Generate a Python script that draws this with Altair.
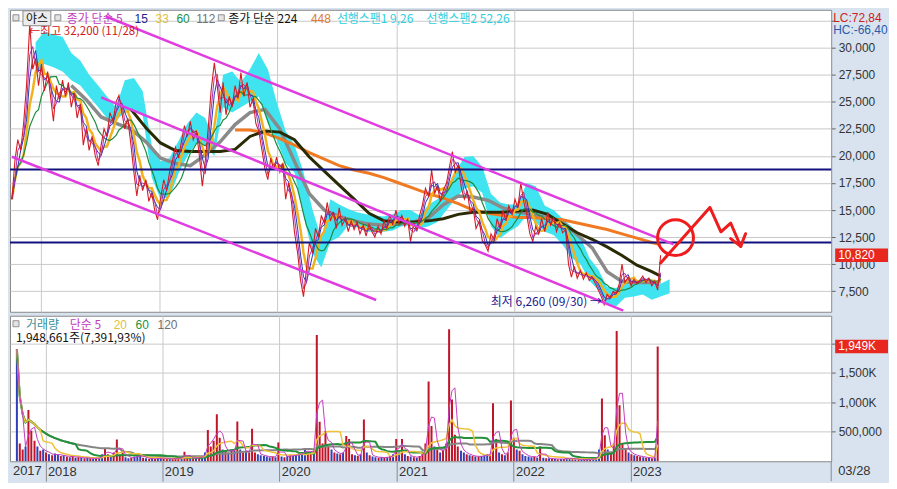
import altair as alt
import pandas as pd

# ---------------- data ----------------
close = [
    16000, 19500, 21500, 20500, 23000, 26500, 32200, 28000, 29000, 26500,
    28500, 26000, 27800, 25500, 23200, 26500, 25200, 27000, 25500, 26800,
    24500, 25800, 23500, 24800, 21000, 22500, 20500, 21800, 20000, 19100,
    21000, 22500, 21800, 24000, 23200, 25000, 25600, 24000, 22500, 23500,
    21000, 18500, 16300, 18200, 16800, 17800, 15800, 16600, 15000, 14100,
    16000, 17800, 16800, 18500, 19600, 20800, 19800, 21400, 22800, 21800,
    23200, 21500, 22200, 20000, 17200, 19500, 22500, 26000, 28600, 26500,
    24000, 26800, 23800, 25500, 24500, 26500, 25300, 27700, 25500, 26800,
    24500, 25300, 23000, 22300, 20500, 18800, 17800, 19800, 18700, 19900,
    18500, 19300, 16000, 17500, 15700, 13000, 11000, 8500, 7000, 9500,
    12000, 11000, 13300, 12500, 14500, 13800, 15700, 14000, 14800, 13300,
    15200, 13600, 14200, 13000, 14000, 13200, 13900, 12800, 13600, 12600,
    13700, 13000, 12500, 13500, 12800, 14000, 13300, 14600, 13600, 15000,
    13800, 14500, 13500, 14200, 12100, 13800, 13200, 14500, 15500, 17000,
    16200, 18700, 16500, 17200, 15800, 16800, 17500, 19000, 20400, 18500,
    19200, 17000, 16000, 16800, 14800, 15200, 13300, 14000, 12200, 11800,
    11200, 12800, 12300, 14200, 13300, 15000, 14000, 15400, 14600, 16000,
    15200, 17500, 15800, 14600, 12800, 12100, 13500, 12800, 14200, 13000,
    14800, 13600, 14300, 13000, 13800, 12900, 13200, 10000, 8800, 9800,
    8700, 9400, 8600, 9200, 8500, 8800, 8200, 7600, 7000, 6260,
    7200, 6900, 7500, 7300, 8100, 10000, 8300, 8800, 8000, 8600,
    8200, 8500, 8900, 8300, 8700, 8000, 8400, 7600, 10820,
]

volume_k = [
    1900, 300, 200, 250, 870, 516, 350, 250, 180, 200,
    150, 120, 100, 130, 110, 90, 100, 80, 70, 90,
    60, 70, 60, 50, 60, 50, 45, 50, 60, 120,
    225, 120, 90, 150, 370, 110, 160, 70, 50, 60,
    80, 90, 110, 60, 50, 40, 45, 40, 50, 60,
    50, 40, 45, 40, 50, 45, 60, 160, 70, 60,
    50, 60, 70, 80, 150, 530, 250, 350, 800, 400,
    200, 180, 150, 200, 180, 675, 200, 150, 180, 150,
    550, 150, 120, 100, 90, 80, 70, 80, 70, 320,
    80, 70, 90, 100, 90, 110, 120, 150, 200, 160,
    140, 180, 2145, 670, 300, 515, 250, 200, 150, 130,
    120, 150, 430, 380, 120, 100, 90, 120, 710, 150,
    100, 80, 70, 60, 70, 60, 70, 90, 120, 380,
    150, 380, 120, 90, 80, 70, 60, 90, 150, 300,
    1355, 600, 250, 200, 150, 180, 300, 2240, 1050, 450,
    250, 180, 150, 120, 100, 90, 80, 80, 90, 100,
    120, 110, 985, 380, 150, 120, 100, 150, 1030, 400,
    200, 180, 120, 90, 80, 70, 80, 60, 250, 60,
    50, 50, 40, 40, 35, 40, 40, 60, 50, 40,
    35, 30, 30, 30, 30, 35, 40, 60, 200, 1065,
    440, 200, 150, 300, 2210, 950, 300, 200, 150, 120,
    100, 90, 80, 70, 60, 60, 50, 60, 1949,
]

# long moving averages, sampled every 5th trading sample (+ last)
ma112 = [None, None, None, None,
         26500, 25200, 23600, 23000, 22500, 21300, 19800, 19300, 19100, 20100,
         21300, 22900, 24000, 24300, 22500, 19500, 16500, 15000, 14400, 14000,
         13700, 13600, 13700, 13900, 14300, 15500, 16300, 16200, 15900, 15200,
         14800, 14600, 14300, 13900, 12700, 11500, 9300, 8400, 8300, 8300,
         8400]
ma224 = [None, None, None, None, None, None, None, None,
         24300, 22600, 21200, 20500, 20400, 20400, 20400, 20600, 21800, 22300,
         22200, 21500, 19900, 18600, 17300, 16000, 14700, 14000, 13900, 13900,
         14000, 14200, 14600, 14800, 14800, 14800, 14900, 15000, 14600, 13700,
         12900, 12300, 11600, 10800, 9900, 9300,
         8900]
ma448 = [None] * 15 + [
         22400, 22400, 22100, 21600, 21000, 20300, 19700, 19100, 18700, 18400,
         18000, 17500, 17000, 16500, 16100, 15600, 15000, 14700, 14500, 14300,
         14300, 14200, 14100, 13800, 13500, 13200, 12800, 12400, 12000,
         11800]

# leading-span cloud (top / bottom)
cloud_top = [30500, 31500, 31200, 31000, 29500, 28800, 27500, 26500, 25500, 24500,
             27000, 27200, 26000, 21000, 19500, 19800, 21400, 23000, 24000, 23500,
             21500, 27500, 27800, 26800, 28000, 29500, 28000, 25000, 22300, 21000,
             18500, 15000, 12400, 16000, 15500, 15100, 14800, 14600, 14500, 14400,
             14600, 15000, 15000, 14500, 15500, 16000, 17000, 18500, 19900, 20000,
             19000, 16500, 15700, 15500, 15500, 17500, 17200, 15400, 15000, 14200,
             13500, 12500, 10600, 9500, 7900, 7800, 8300, 8500, 8600, 8400,
             8200, 8600]
cloud_bot = [27500, 28500, 28200, 27800, 27000, 26500, 25500, 24500, 23500, 23300,
             24000, 24200, 23800, 18000, 16000, 16200, 18400, 20000, 21200, 21000,
             20000, 24500, 24000, 24500, 25000, 25500, 23000, 21500, 19300, 18500,
             14500, 11000, 9700, 12100, 12500, 13600, 13400, 13000, 13000, 13000,
             13100, 13500, 13600, 13300, 13500, 13900, 15000, 16000, 17000, 17200,
             16600, 13500, 12400, 13000, 13500, 14500, 13900, 13000, 12700, 11800,
             10600, 10000, 8500, 7600, 6300, 6100, 6900, 7000, 7200, 6700,
             7000, 7300]

# hand-drawn trend channels
channel_ids = ["A", "A", "B", "B", "C", "C"]
channel_dates = ["2018-07-21", "2023-05-06", "2018-07-06", "2022-12-02", "2017-10-04", "2020-10-31"]
channel_values = [32880, 11820, 25410, 5700, 19920, 6690]

support_levels = [18750, 12000]

scribble_dates = ["2023-03-27", "2023-08-26", "2023-09-29", "2023-10-29", "2023-11-29"]
scribble_values = [10110, 15240, 12990, 13800, 11640]
arrowhead_dates = ["2023-10-29", "2023-11-29", "2023-12-14"]
arrowhead_values = [12360, 11640, 12810]
circle_date = ["2023-05-12"]
circle_value = [12450]

price_ticks = [7500, 10000, 12500, 15000, 17500, 20000, 22500, 25000, 27500, 30000, 32500]
volume_ticks = [500, 1000, 1500, 2000]
year_ticks = [2018, 2019, 2020, 2021, 2022, 2023]

assert len(close) == len(volume_k) == 219
assert len(ma112) == len(ma224) == len(ma448) == 45
assert len(cloud_top) == len(cloud_bot) == 72

# ---------------- tables ----------------
start = pd.Timestamp("2017-10-04")
end = pd.Timestamp("2023-03-28")
n = len(close)
step = (end - start) / (n - 1)


def gdate(i):
    return (start + step * i).strftime("%Y-%m-%d")


pdf = pd.DataFrame({
    "date": [gdate(i) for i in range(n)],
    "close": close,
    "vol": volume_k,
    "dir": ["up" if i > 0 and (close[i] >= close[i - 1] or volume_k[i] >= 300) else "down"
            for i in range(n)],
})

ma_idx = list(range(0, 216, 5)) + [n - 1]
madf = pd.DataFrame({"date": [gdate(i) for i in ma_idx], "m112": ma112, "m224": ma224, "m448": ma448})
cloud_idx = [8 + 3 * k for k in range(len(cloud_top))]
cdf = pd.DataFrame({"date": [gdate(i) for i in cloud_idx], "top": cloud_top, "bot": cloud_bot})
chdf = pd.DataFrame({"line": channel_ids, "date": channel_dates, "v": channel_values})
hdf = pd.DataFrame({"v": support_levels})
scdf = pd.DataFrame({"date": scribble_dates, "v": scribble_values})
ahdf = pd.DataFrame({"date": arrowhead_dates, "v": arrowhead_values})
cidf = pd.DataFrame({"date": circle_date, "v": circle_value})

# ---------------- layout / style ----------------
W = 824
HP = 303
HV = 146
FONT_NUM = "Liberation Sans Narrow, Liberation Sans, Arial, sans-serif"
FONT_KR = "Noto Sans CJK KR, sans-serif"
GRID = "#c9c9c9"

xs = alt.Scale(domain=[alt.DateTime(year=2017, month=9, date=28), alt.DateTime(year=2024, month=9, date=3)])
years = [alt.DateTime(year=y, month=1, date=1) for y in year_ticks]
xaxis_p = alt.Axis(values=years, labels=False, ticks=False, domain=False, grid=True,
                   gridColor=GRID, title=None)
ys = alt.Scale(domain=[5600, 33500], nice=False, zero=False)
yaxis_p = alt.Axis(orient="right", values=price_ticks,
                   labelExpr="datum.value == 32500 ? '' : format(datum.value, ',')",
                   grid=True, gridColor=GRID, tickColor="#666", tickSize=4,
                   domain=False, labelPadding=3, title=None)


def Xt(field="date"):
    return alt.X(f"{field}:T", scale=xs, axis=xaxis_p)


def Yq(field):
    return alt.Y(f"{field}:Q", scale=ys, axis=yaxis_p)


def label(text, x, y, color, size=12, font=FONT_KR, align="left", baseline="middle"):
    return alt.Chart(pd.DataFrame({"t": [text]})).mark_text(
        align=align, baseline=baseline, font=font, fontSize=size, color=color
    ).encode(text="t:N", x=alt.value(x), y=alt.value(y))


def box(x1, x2, y1, y2, fill, stroke=""):
    kw = {"fill": fill}
    if stroke:
        kw["stroke"] = stroke
        kw["strokeWidth"] = 1
    return alt.Chart(pd.DataFrame({"a": [0]})).mark_rect(**kw).encode(
        x=alt.value(x1), x2=alt.value(x2), y=alt.value(y1), y2=alt.value(y2))


def ma_line(data, field, color, width):
    return alt.Chart(data).mark_line(color=color, strokeWidth=width, clip=True).encode(
        x=Xt(), y=Yq(field))


def win_line(frame, color, width):
    return alt.Chart(pdf).transform_window(
        m="mean(close)", frame=frame, sort=[alt.SortField("date")]
    ).mark_line(color=color, strokeWidth=width, clip=True).encode(x=Xt(), y=Yq("m"))


cloud = alt.Chart(cdf).mark_area(color="#3fe4f0", opacity=1, clip=True).encode(
    x=Xt(), y=Yq("top"), y2="bot:Q")

price_layers = [
    cloud,
    ma_line(madf, "m112", "#8a8a8a", 3.5),
    ma_line(madf, "m448", "#f07a22", 3),
    ma_line(madf, "m224", "#2a2a05", 3),
    win_line([-4, 0], "#f2b21e", 2.5),
    win_line([-9, 0], "#1e8c3c", 1.2),
    win_line([-2, 0], "#2a36b0", 1),
    win_line([-1, 0], "#a832b8", 1),
    alt.Chart(pdf).mark_line(color="#d41c24", strokeWidth=1.1, clip=True).encode(x=Xt(), y=Yq("close")),
    alt.Chart(hdf).mark_rule(color="#12127e", strokeWidth=2).encode(y=Yq("v")),
    alt.Chart(chdf).mark_line(color="#e03ce0", strokeWidth=2.5, clip=True).encode(
        x=Xt(), y=Yq("v"), detail="line:N"),
    alt.Chart(scdf).mark_line(color="#ee1c1c", strokeWidth=3, strokeJoin="round", strokeCap="round").encode(
        x=Xt(), y=Yq("v")),
    alt.Chart(ahdf).mark_line(color="#ee1c1c", strokeWidth=3, strokeJoin="round", strokeCap="round").encode(
        x=Xt(), y=Yq("v")),
    alt.Chart(cidf).mark_point(shape="circle", size=1296, filled=False, color="#ee1c1c",
                               strokeWidth=3, opacity=1).encode(x=Xt(), y=Yq("v")),
    # annotations tied to data
    alt.Chart(pd.DataFrame({"date": ["2017-11-28"], "v": [32200], "t": ["←최고 32,200 (11/28)"]})).mark_text(
        align="left", baseline="middle", font=FONT_KR, fontSize=11.5, color="#d01818", dx=-1, dy=8
    ).encode(x=Xt(), y=Yq("v"), text="t:N"),
    alt.Chart(pd.DataFrame({"date": ["2022-09-30"], "v": [6260], "t": ["최저 6,260 (09/30) →"]})).mark_text(
        align="right", baseline="middle", font=FONT_KR, fontSize=12, color="#1a1a8c", dx=-1, dy=-3
    ).encode(x=Xt(), y=Yq("v"), text="t:N"),
    # last price box on the axis
    alt.Chart(pd.DataFrame({"top": [11450], "bot": [10190]})).mark_rect(fill="#e8281e").encode(
        x=alt.value(W + 4), x2=alt.value(W + 57), y=Yq("top"), y2="bot:Q"),
    alt.Chart(pd.DataFrame({"v": [10820], "t": ["10,820"]})).mark_text(
        align="left", baseline="middle", font=FONT_NUM, fontSize=12, color="white"
    ).encode(x=alt.value(W + 7), y=Yq("v"), text="t:N"),
    label("LC:72,84", W + 2, 8, "#cc2222", font=FONT_NUM),
    label("HC:-66,40", W + 2, 20, "#2a5aa8", font=FONT_NUM),
    # legend row
    box(3, 9, 5, 11, "#e4e4e4", "#909090"),
    box(13, 41, 1, 16, "#ececec", "#8a8a8a"),
    label("야스", 16, 9, "#111111"),
    box(45, 51, 5, 11, "#e4e4e4", "#909090"),
    label("종가 단순 5", 57, 9, "#c03cc0"),
    label("15", 125, 9, "#22228c", font=FONT_NUM),
    label("33", 146, 9, "#e0c040", font=FONT_NUM),
    label("60", 167, 9, "#1f8f40", font=FONT_NUM),
    label("112", 187, 9, "#707070", font=FONT_NUM),
    box(209, 215, 5, 11, "#e4e4e4", "#909090"),
    label("종가 단순 224", 219, 9, "#111111"),
    label("448", 302, 9, "#e07830", font=FONT_NUM),
    label("선행스팬1 9,26", 328, 9, "#2ed0e0"),
    label("선행스팬2 52,26", 418, 9, "#2ed0e0"),
]

price = alt.layer(*price_layers).properties(width=W, height=HP)

# ---------------- volume panel ----------------
xaxis_v = alt.Axis(values=years, format="%Y", grid=True, gridColor=GRID, labelAlign="left",
                   labelBaseline="top", labelPadding=-16, labelOffset=2, tickSize=20,
                   tickColor="#8a8a8a", domain=False, labelFontSize=13, title=None)
vs = alt.Scale(domain=[0, 2470], nice=False)
yaxis_v = alt.Axis(orient="right", values=volume_ticks,
                   labelExpr="datum.value == 2000 ? '' : (datum.value == 500 ? '500,000' : format(datum.value, ',') + 'K')",
                   grid=True, gridColor=GRID, tickColor="#666", tickSize=4, domain=False,
                   labelPadding=3, title=None)


def Xv(field="date"):
    return alt.X(f"{field}:T", scale=xs, axis=xaxis_v)


def Yv(field):
    return alt.Y(f"{field}:Q", scale=vs, axis=yaxis_v)


def vol_ma(frame, color, width):
    return alt.Chart(pdf).transform_window(
        m="mean(vol)", frame=frame, sort=[alt.SortField("date")]
    ).mark_line(color=color, strokeWidth=width, clip=True).encode(x=Xv(), y=Yv("m"))


vol_layers = [
    alt.Chart(pdf).mark_bar(size=2, clip=True).encode(
        x=Xv(), y=Yv("vol"),
        color=alt.Color("dir:N", scale=alt.Scale(domain=["up", "down"], range=["#c01428", "#3040b8"]),
                        legend=None)),
    vol_ma([-35, 0], "#858585", 2),
    vol_ma([-20, 0], "#23913a", 2),
    vol_ma([-8, 0], "#efc23a", 1.5),
    vol_ma([-2, 0], "#c43cc0", 1),
    alt.Chart(pd.DataFrame({"top": [2064], "bot": [1834]})).mark_rect(fill="#e8281e").encode(
        x=alt.value(W + 4), x2=alt.value(W + 57), y=Yv("top"), y2="bot:Q"),
    alt.Chart(pd.DataFrame({"v": [1949], "t": ["1,949K"]})).mark_text(
        align="left", baseline="middle", font=FONT_NUM, fontSize=12, color="white"
    ).encode(x=alt.value(W + 7), y=Yv("v"), text="t:N"),
    box(3, 9, 5, 11, "#e4e4e4", "#909090"),
    label("거래량", 16, 9, "#3a90a0"),
    label("단순 5", 60, 9, "#c03cc0"),
    label("20", 104, 9, "#e0c040", font=FONT_NUM),
    label("60", 126, 9, "#1f8f40", font=FONT_NUM),
    label("120", 148, 9, "#707070", font=FONT_NUM),
    label("1,948,661주(7,391,93%)", 6, 22, "#111111"),
    label("2017", 3, HV + 4, "#333333", size=13, font=FONT_NUM, baseline="top"),
    label("03/28", W + 7, HV + 4, "#333333", size=13, font=FONT_NUM, baseline="top"),
    alt.Chart(pd.DataFrame({"a": [0]})).mark_rule(color="#8a8a8a").encode(
        x=alt.value(W), y=alt.value(HV), y2=alt.value(HV + 20)),
]

volume = alt.layer(*vol_layers).properties(width=W, height=HV)

chart = alt.vconcat(price, volume, spacing=2, padding=0, background="#d8e3ef").configure_axis(
    labelFont=FONT_NUM, labelFontSize=12, labelColor="#333333"
).configure_view(fill="white", stroke="#8a8a8a", strokeWidth=1)

chart.save("out.html", embed_options={"renderer": "svg", "actions": False})
